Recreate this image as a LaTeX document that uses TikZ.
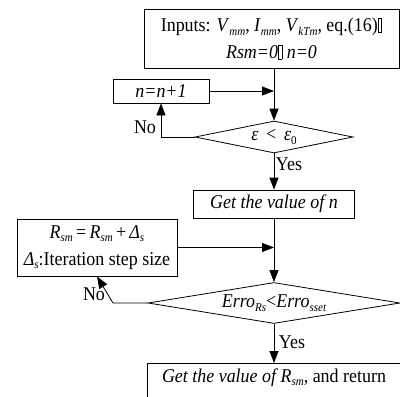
\documentclass[tikz,border=0pt]{standalone}
\usepackage{fontspec}
\setmainfont[FakeStretch=0.92]{Liberation Serif}
\usetikzlibrary{shapes.geometric,arrows.meta,calc}
\newcommand\I[1]{\textit{#1}}
\newcommand\sbs[1]{\raisebox{-3.5pt}{\fontsize{12}{13}\selectfont\itshape #1}}
\newcommand\sbu[1]{\raisebox{-3.5pt}{\fontsize{12}{13}\selectfont #1}}
\newcommand\tofu{{\setlength\fboxsep{0pt}\setlength\fboxrule{0.7pt}\fbox{\rule{0pt}{13pt}\rule{3pt}{0pt}}}}
\tikzset{
  every node/.style={font=\fontsize{19.5}{27}\selectfont},
  box/.style={draw, line width=0.8pt, rectangle, inner sep=0pt, align=center},
  dec/.style={draw, line width=0.8pt, diamond, inner sep=0pt},
  arr/.style={line width=0.8pt, -{Triangle[length=12pt,width=9pt]}},
  lbl/.style={inner sep=0pt}
}
\begin{document}
\begin{tikzpicture}[x=1pt,y=-1pt]
\useasboundingbox (0,0) rectangle (400,397);
\clip (0,0) rectangle (400,397);
\node[box, minimum width=255pt, minimum height=59pt] (top) at (271.5,38.5)
  {Inputs: \I{V}\sbs{mm}, \I{I}\sbs{mm}, \I{V}\sbs{kTm}, eq.(16)\tofu\\ \I{Rsm=0}\tofu\ \I{n=0}};
\node[box, minimum width=96pt, minimum height=24pt] (inc) at (161,91) {\I{n=n+1}};
\node[dec, minimum width=158pt, minimum height=32pt, aspect=5] (d1) at (274,137) {\I{ε} \,<\, \I{ε}\sbu{0}};
\node[box, minimum width=161pt, minimum height=28pt] (getn) at (274,204) {\I{Get the value of n}};
\node[box, minimum width=160pt, minimum height=57pt] (upd) at (97,247.5)
  {\I{R}\sbs{sm}\,=\,\I{R}\sbs{sm}\,+\,\I{Δ}\sbs{s}\\ \I{Δ}\sbs{s}:Iteration step size};
\node[dec, minimum width=252pt, minimum height=41pt, aspect=6] (d2) at (274,303) {\I{Erro}\sbs{Rs}<\I{Erro}\sbs{sset}};
\node[box, anchor=north, minimum width=254pt, text height=15pt, text depth=30pt, inner ysep=4pt] (fin) at (274,363)
  {\I{Get the value of R}\sbs{sm}, and return};
\coordinate (bend) at (113,303);
\draw[arr] (top.south -| d1.north) -- (d1.north);
\draw[arr] (inc.east) -- (inc.east -| d1.north);
\draw[arr] (d1.west) -| (inc.south);
\draw[arr] (d1.south) -- (getn.north);
\draw[arr] (getn.south) -- (d2.north);
\draw[arr] (upd.east) -- (upd.east -| d2.north);
\draw[arr] (d2.west) -- (bend) -- (upd.south);
\draw[arr] (d2.south) -- (fin.north);
\node[lbl] (no1) at (145,127) {No};
\node[lbl] (yes1) at (289,164) {Yes};
\node[lbl] (no2) at (94,294) {No};
\node[lbl] (yes2) at (292,342) {Yes};
\end{tikzpicture}
\end{document}
